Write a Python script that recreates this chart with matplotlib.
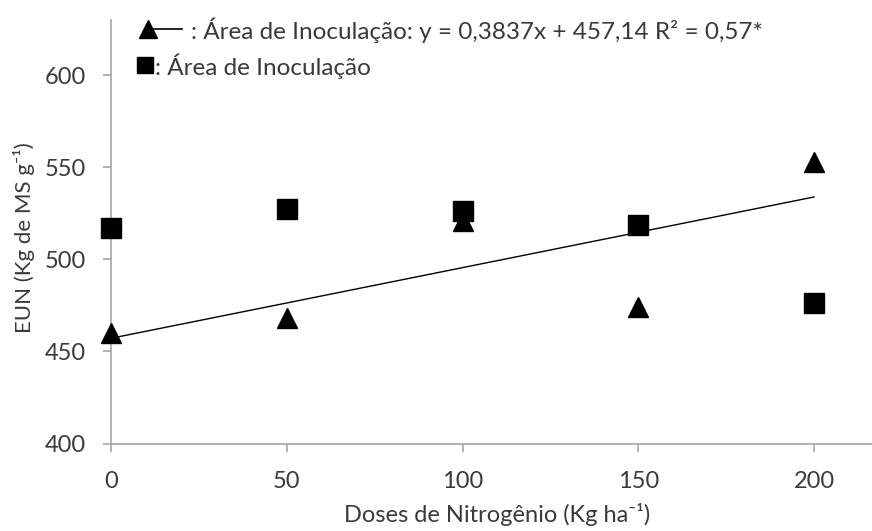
import numpy as np
import matplotlib
matplotlib.use("Agg")
import matplotlib.pyplot as plt
from matplotlib.lines import Line2D

plt.rcParams["font.family"] = ["Lato", "DejaVu Sans"]

# Doses de N and EUN values
doses = [0, 50, 100, 150, 200]
eun_tri = [460.0, 468.2, 521.0, 474.2, 552.9]
eun_sq = [517.0, 527.4, 526.1, 518.9, 476.4]

# linear fit reported for the triangle series
slope, intercept = 0.3837, 457.14
fit_label = ": Área de Inoculação: y = 0,3837x + 457,14 R² = 0,57*"
sq_label = ": Área de Inoculação"

xticks = [0, 50, 100, 150, 200]
yticks = [400, 450, 500, 550, 600]

txt = "#3a3a3a"
axc = "#a6a6a6"

W, H = 872, 531
fig = plt.figure(figsize=(W / 100, H / 100), dpi=100)
ax = fig.add_axes([111 / W, (H - 443.5) / H, 761 / W, (443.5 - 20) / H])

ax.plot(doses, eun_tri, linestyle="none", marker="^", ms=13.7, color="black",
        zorder=3, clip_on=False)
ax.plot(doses, eun_sq, linestyle="none", marker="s", ms=13.7, color="black",
        zorder=4, clip_on=False)

xf = np.array([0, 200])
ax.plot(xf, slope * xf + intercept, color="black", lw=1.0, zorder=2)

ax.set_xlim(0, 216.5)
ax.set_ylim(400, 630)
ax.set_xticks(xticks)
ax.set_yticks(yticks)
for s in ["top", "right"]:
    ax.spines[s].set_visible(False)
for s in ["left", "bottom"]:
    ax.spines[s].set_color(axc)
    ax.spines[s].set_linewidth(1.2)
ax.tick_params(axis="both", colors=axc, labelcolor=txt, labelsize=17, width=1.2)
ax.tick_params(axis="y", length=6, pad=12)
ax.tick_params(axis="x", length=6, pad=14)

fig.text(497 / W, 1 - 515 / H, "Doses de Nitrogênio (Kg ha⁻¹)",
         ha="center", va="center", fontsize=17, color=txt)
fig.text(24 / W, 1 - 238 / H, "EUN (Kg de MS g⁻¹)", rotation=90,
         ha="center", va="center", fontsize=16, color=txt)

# legend entries drawn in figure pixels
def fx(px):
    return px / W

def fy(py):
    return 1 - py / H

fig.add_artist(Line2D([fx(148), fx(182)], [fy(28.5), fy(28.5)], color="black", lw=1.2))
fig.add_artist(Line2D([fx(148)], [fy(28.5)], marker="^", ms=12.5, color="black", linestyle="none"))
fig.text(fx(191), fy(30), fit_label, ha="left", va="center", fontsize=17.5, color=txt)
fig.add_artist(Line2D([fx(145)], [fy(65)], marker="s", ms=11.5, color="black", linestyle="none"))
fig.text(fx(155), fy(66), sq_label, ha="left", va="center", fontsize=17.5, color=txt)

fig.savefig("out.png", dpi=100)
